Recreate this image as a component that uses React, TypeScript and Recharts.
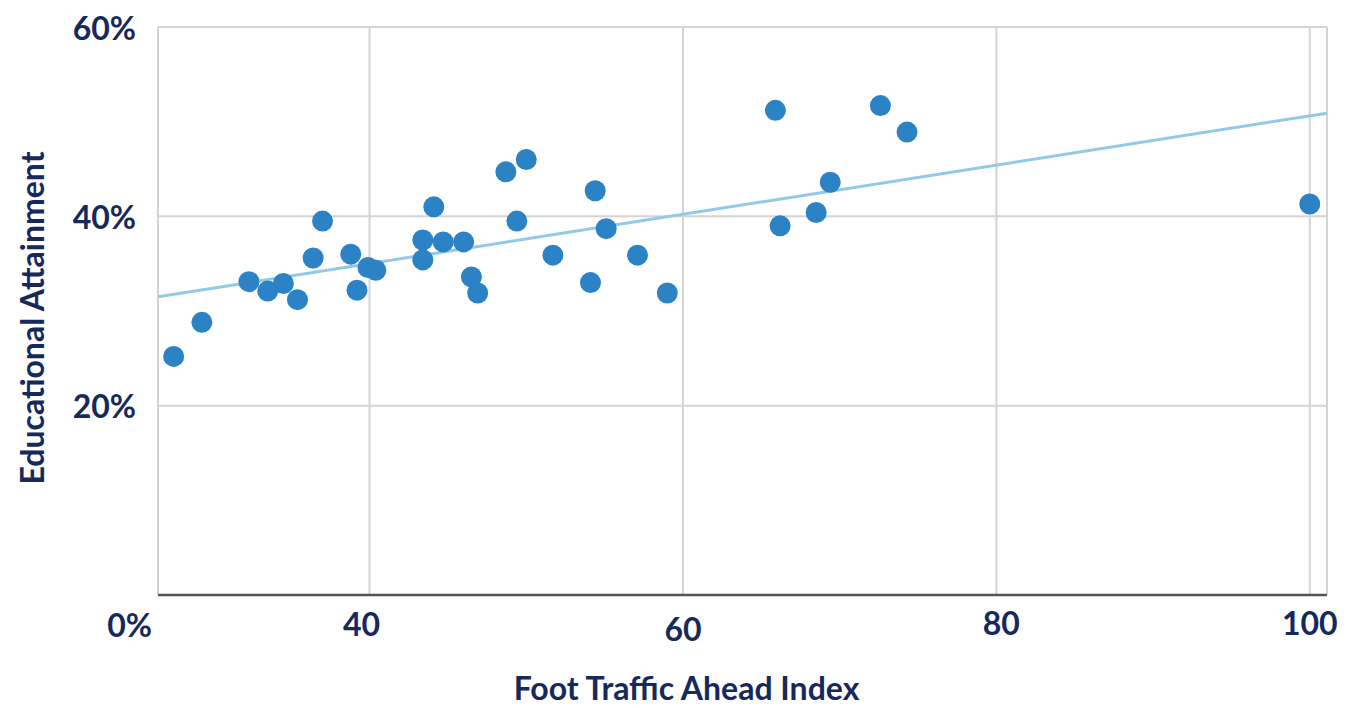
import React from 'react'
import {
  ScatterChart,
  Scatter,
  XAxis,
  YAxis,
  CartesianGrid,
  ReferenceLine,
} from 'recharts'

// foot traffic index per market
const trafficIndex = [
  27.5, 29.3, 32.3, 33.5, 34.5, 35.4, 36.4, 37.0, 38.8, 39.2, 39.9, 40.4,
  43.4, 43.4, 44.1, 44.7, 46.0, 46.5, 46.9, 48.7, 49.4, 50.0, 51.7, 54.1,
  54.4, 55.1, 57.1, 59.0, 65.9, 66.2, 68.5, 69.4, 72.6, 74.3, 100.0,
]

// share with degree (%)
const attainment = [
  25.2, 28.8, 33.1, 32.1, 32.9, 31.2, 35.6, 39.5, 36.0, 32.2, 34.6, 34.3,
  37.5, 35.4, 41.0, 37.3, 37.3, 33.6, 31.9, 44.7, 39.5, 46.0, 35.9, 33.0,
  42.7, 38.7, 35.9, 31.9, 51.2, 39.0, 40.4, 43.6, 51.7, 48.9, 41.3,
]

const xTicks = [40, 60, 80, 100]
const yTicks = [0, 20, 40, 60]

// fitted trend line end points
const trendStart = { x: 26.5, y: 31.5 }
const trendEnd = { x: 101.1, y: 50.9 }

const points = trafficIndex.map((x, i) => ({ x, y: attainment[i] }))

const navy = '#16295a'
const font = 'Lato, "Open Sans", sans-serif'
const fs = 32

// small nudges so labels sit like the original export
const xNudge: Record<number, [number, number]> = {
  40: [-8, 0],
  60: [0, 5],
  80: [5, -1],
  100: [0, -1],
}

const XTick = (props: any) => {
  const { x, y, payload } = props
  const [dx, dy] = xNudge[payload.value] || [0, 0]
  return (
    <text
      x={x + dx}
      y={y + dy + 33}
      textAnchor="middle"
      fill={navy}
      fontFamily={font}
      fontWeight={700}
      fontSize={fs}
    >
      {payload.value}
    </text>
  )
}

const YTick = (props: any) => {
  const { y, payload } = props
  const isZero = payload.value === 0
  return (
    <text
      x={isZero ? 152 : 136}
      y={isZero ? y + 42 : y + 12.5}
      textAnchor="end"
      fill={navy}
      fontFamily={font}
      fontWeight={700}
      fontSize={fs}
    >
      {payload.value}%
    </text>
  )
}

const Dot = (props: any) => (
  <circle cx={props.cx} cy={props.cy} r={10.5} fill="#2b83c6" />
)

const YTitle = () => (
  <text
    x={31}
    y={318}
    transform="rotate(-90, 31, 318)"
    textAnchor="middle"
    dominantBaseline="central"
    fill={navy}
    fontFamily={font}
    fontWeight={700}
    fontSize={fs}
  >
    Educational Attainment
  </text>
)

const App: React.FC = () => {
  return (
    <div style={{ position: 'absolute', left: 0, top: 0, background: '#fff' }}>
      <ScatterChart
        width={1346}
        height={708}
        margin={{ top: 27, right: 19, bottom: 0, left: 0 }}
      >
        <CartesianGrid stroke="#d4d4d4" strokeWidth={2} />
        <XAxis
          type="number"
          dataKey="x"
          domain={[26.5, 101.1]}
          allowDataOverflow
          ticks={xTicks}
          tickLine={false}
          axisLine={{ stroke: '#555', strokeWidth: 2.5 }}
          tick={<XTick />}
          height={113}
          label={{
            value: 'Foot Traffic Ahead Index',
            position: 'insideBottom',
            offset: 8,
            dx: -56,
            fill: navy,
            fontFamily: font,
            fontWeight: 700,
            fontSize: fs,
          }}
        />
        <YAxis
          type="number"
          dataKey="y"
          domain={[0, 60]}
          ticks={yTicks}
          width={158}
          tickLine={false}
          axisLine={false}
          tick={<YTick />}
          label={{ content: <YTitle /> }}
        />
        <ReferenceLine
          segment={[trendStart, trendEnd]}
          stroke="#92c9e8"
          strokeWidth={3}
          ifOverflow="extendDomain"
        />
        <Scatter data={points} shape={<Dot />} isAnimationActive={false} />
      </ScatterChart>
    </div>
  )
}

export default App
